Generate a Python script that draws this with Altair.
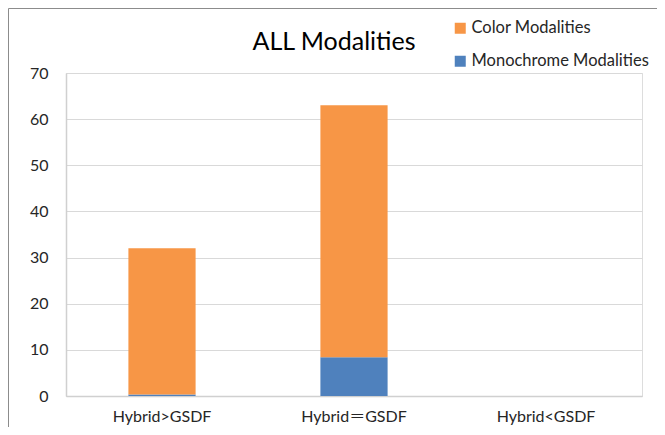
import altair as alt
import pandas as pd

categories = ["Hybrid>GSDF", "Hybrid＝GSDF", "Hybrid<GSDF"]
monochrome_values = [0.3, 8.4, 0]
color_values = [31.7, 54.6, 0]
series_names = ["Color Modalities", "Monochrome Modalities"]
series_colors = ["#F79646", "#4F81BD"]
y_ticks = [0, 10, 20, 30, 40, 50, 60, 70]

rows = []
for c, m, col in zip(categories, monochrome_values, color_values):
    rows.append({"category": c, "series": series_names[1], "value": m, "stack_order": 0})
    rows.append({"category": c, "series": series_names[0], "value": col, "stack_order": 1})
df = pd.DataFrame(rows)

FONT = "Lato, 'Noto Sans CJK JP', sans-serif"

bars = alt.Chart(df).mark_bar(width=alt.RelativeBandSize(0.35)).encode(
    x=alt.X("category:N", sort=categories, title=None,
            scale=alt.Scale(paddingInner=0, paddingOuter=0),
            axis=alt.Axis(labelAngle=0, ticks=False, tickSize=0, labelPadding=12,
                          labelFontSize=16, labelFont=FONT, labelColor="#262626",
                          domainColor="#D0D0D0", domainWidth=1.5, grid=False)),
    y=alt.Y("value:Q", stack="zero", title=None,
            scale=alt.Scale(domain=[0, 70], nice=False),
            axis=alt.Axis(values=y_ticks, ticks=False, tickSize=0, labelPadding=18,
                          labelFontSize=16, labelFont=FONT, labelColor="#262626",
                          domainColor="#D0D0D0", domainWidth=1.5,
                          gridColor="#D9D9D9", gridWidth=1.2)),
    color=alt.Color("series:N", scale=alt.Scale(domain=series_names, range=series_colors),
                    legend=alt.Legend(title=None, orient="none", legendX=386, legendY=-53,
                                      symbolType="square", symbolSize=121,
                                      symbolStrokeWidth=0, labelFontSize=16.5,
                                      labelFont=FONT, labelColor="#262626",
                                      labelOffset=3, rowPadding=16, padding=0,
                                      labelLimit=300)),
    order=alt.Order("stack_order:Q"),
)

border_df = pd.DataFrame({"k": [0]})
top_border = alt.Chart(border_df).mark_rule(color="#8C8C8C", strokeWidth=1).encode(
    x=alt.value(-57.5), x2=alt.value(592), y=alt.value(-64.5)
)
left_border = alt.Chart(border_df).mark_rule(color="#8C8C8C", strokeWidth=1).encode(
    x=alt.value(-57.5), y=alt.value(-64.5), y2=alt.value(360)
)

chart = alt.layer(bars, top_border, left_border).properties(
    width=576,
    height=323,
    title=alt.TitleParams("ALL Modalities", font=FONT, fontSize=25, fontWeight="normal",
                          color="#000000", anchor="middle", dx=-20, dy=51),
    autosize=alt.AutoSizeParams(type="none"),
    padding={"left": 58, "top": 65, "right": 15, "bottom": 31},
).configure_view(stroke=None).configure(background="white")

chart.save("out.html", embed_options={"renderer": "svg", "actions": False})
